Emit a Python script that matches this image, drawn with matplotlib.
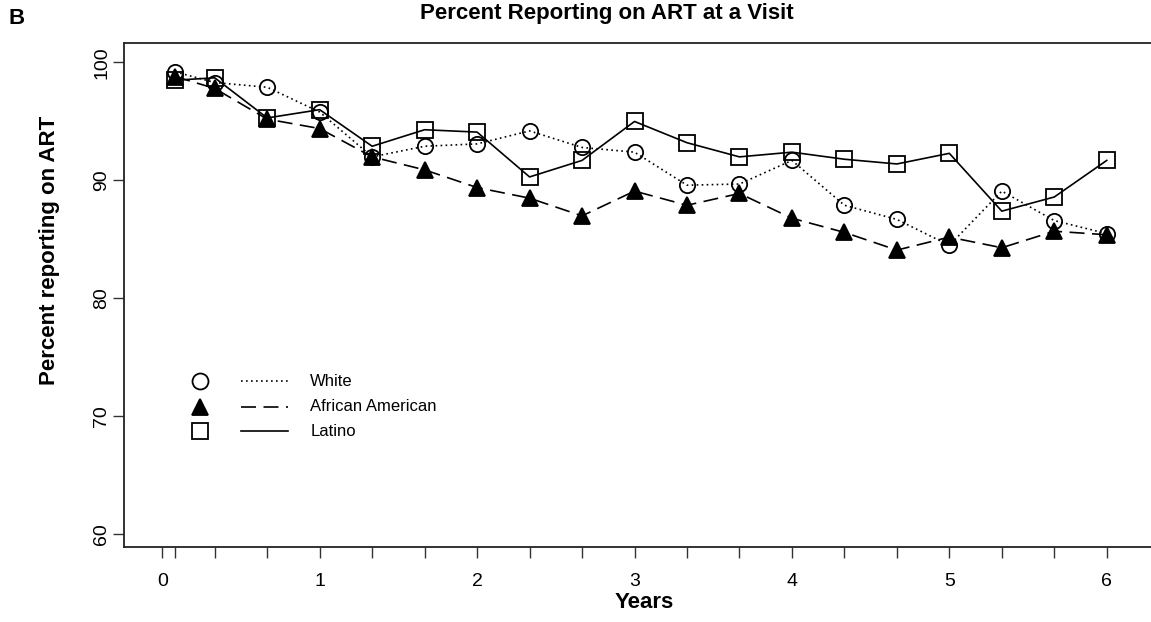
import numpy as np
import matplotlib
matplotlib.use("Agg")
import matplotlib.pyplot as plt

plt.rcParams["font.family"] = ["Liberation Sans", "DejaVu Sans"]

# visit times in years (first visit at 1 month, then every 4 months)
years = [1/12, 1/3, 2/3, 1, 4/3, 5/3, 2, 7/3, 8/3, 3, 10/3, 11/3, 4,
         13/3, 14/3, 5, 16/3, 17/3, 6]

white = [99.2, 98.3, 97.9, 95.8, 92.0, 92.9, 93.1, 94.2, 92.8, 92.4,
         89.6, 89.7, 91.7, 87.9, 86.7, 84.5, 89.1, 86.6, 85.5]
african_american = [98.8, 97.8, 95.2, 94.4, 92.0, 90.9, 89.4, 88.5, 87.0, 89.1,
                    87.9, 88.9, 86.8, 85.6, 84.1, 85.2, 84.3, 85.7, 85.4]
latino = [98.5, 98.7, 95.3, 96.0, 92.9, 94.3, 94.1, 90.3, 91.7, 95.0,
          93.2, 92.0, 92.4, 91.8, 91.4, 92.3, 87.4, 88.6, 91.7]

series_names = ["White", "African American", "Latino"]
tick_pos = [0, 1/12] + [k / 3 for k in range(1, 19)]
tick_labels = [str(int(round(t))) if abs(t - round(t)) < 1e-9 else "" for t in tick_pos]
tick_labels[1] = ""

W, H = 1151, 622
fig = plt.figure(figsize=(W / 100, H / 100), dpi=100)
ax = fig.add_axes([124 / W, 1 - 547 / H, (1165 - 124) / W, (547 - 43) / H])

styles = [
    dict(marker="o", linestyle=(0, (1, 2)), mfc="none"),
    dict(marker="^", linestyle=(0, (9, 4.5)), mfc="black"),
    dict(marker="s", linestyle="-", mfc="none"),
]
for vals, st in zip([white, african_american, latino], styles):
    ax.plot(years, vals, color="black", lw=1.2, ms=11, mec="black",
            mew=1.3, marker=st["marker"], linestyle=st["linestyle"],
            markerfacecolor=st["mfc"])

ax.set_xlim(-0.243, 6.37)
ax.set_ylim(58.94, 101.65)
ax.set_xticks(tick_pos)
ax.set_xticklabels(tick_labels)
ax.set_yticks([60, 70, 80, 90, 100])
ax.set_yticklabels(["60", "70", "80", "90", "100"], rotation=90, va="center")
ax.tick_params(axis="both", direction="out", length=8, width=1, labelsize=14,
               color="#333333")
ax.tick_params(axis="x", pad=11)
ax.tick_params(axis="y", pad=2)
for sp in ax.spines.values():
    sp.set_linewidth(1.3)
    sp.set_color("#222222")

ax.set_xlabel("Years", fontsize=16, fontweight="bold", labelpad=1)
fig.text(50 / W, 1 - 250 / H, "Percent reporting on ART", rotation=90,
         ha="center", va="center", fontsize=16, fontweight="bold")
fig.text(607 / W, 1 - 14 / H, "Percent Reporting on ART at a Visit",
         ha="center", va="center", fontsize=16, fontweight="bold")
fig.text(8 / W, 1 - 18 / H, "B", ha="left", va="center", fontsize=16,
         fontweight="bold")

# legend drawn like the R version: symbol, line sample, label
leg_y = [0.329, 0.278, 0.230]
for name, st, yy in zip(series_names, styles, leg_y):
    ax.plot([0.073], [yy], transform=ax.transAxes, color="black", ms=11.5,
            mew=1.3, marker=st["marker"], markerfacecolor=st["mfc"],
            linestyle="none", clip_on=False)
    ax.plot([0.112, 0.158], [yy, yy], transform=ax.transAxes, color="black",
            lw=1.2, linestyle=st["linestyle"])
    ax.text(0.179, yy, name, transform=ax.transAxes, ha="left", va="center",
            fontsize=12)

fig.savefig("out.png", dpi=100)
